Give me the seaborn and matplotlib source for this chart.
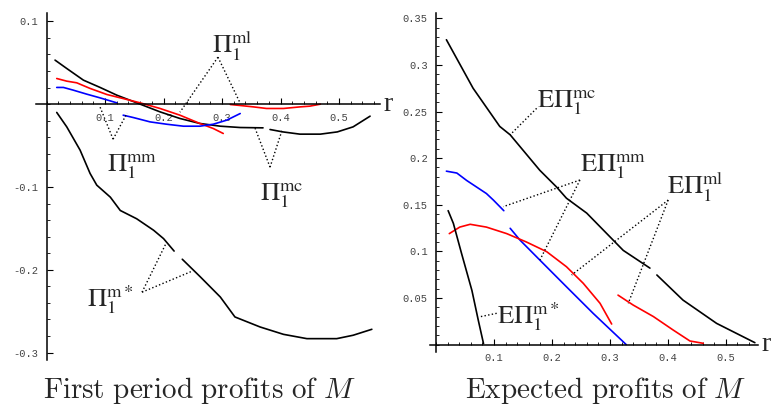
import numpy as np
import pandas as pd
import seaborn as sns
import matplotlib.pyplot as plt
from matplotlib.ticker import MultipleLocator

sns.set_style("white")
plt.rcParams['font.family'] = ['DejaVu Sans']

# ---- left panel: first period profits ----
mc1_r = [0.0145, 0.0345, 0.063, 0.0915, 0.12, 0.16, 0.194, 0.228, 0.262, 0.297, 0.331, 0.370]
mc1_v = [0.0532, 0.0431, 0.029, 0.0202, 0.0109, 0.0, -0.0093, -0.0173, -0.0233, -0.0266, -0.0282, -0.0286]
mc2_r = [0.382, 0.404, 0.433, 0.468, 0.497, 0.524, 0.553]
mc2_v = [-0.0306, -0.0335, -0.0362, -0.0362, -0.0335, -0.0274, -0.0145]

ml1_r = [0.0174, 0.0345, 0.0516, 0.0744, 0.103, 0.137, 0.160, 0.194, 0.228, 0.262, 0.285, 0.302]
ml1_v = [0.031, 0.0278, 0.0258, 0.019, 0.0117, 0.0057, 0.0016, -0.0052, -0.0133, -0.0233, -0.0294, -0.0354]
ml2_r = [0.314, 0.331, 0.354, 0.376, 0.405, 0.433, 0.450, 0.468]
ml2_v = [-0.0004, -0.0016, -0.0033, -0.0052, -0.0052, -0.0033, -0.0024, 0.0]

mm1_r = [0.0174, 0.0288, 0.0458, 0.0687, 0.0915, 0.12]
mm1_v = [0.0202, 0.0202, 0.0169, 0.0121, 0.0076, 0.0016]
mm2_r = [0.131, 0.148, 0.177, 0.205, 0.234, 0.262, 0.285, 0.308, 0.331]
mm2_v = [-0.0133, -0.0161, -0.0214, -0.0242, -0.0266, -0.0266, -0.0242, -0.0193, -0.0113]

ms1_r = [0.0174, 0.0345, 0.0573, 0.0744, 0.0858, 0.109, 0.126, 0.154, 0.183, 0.2, 0.218]
ms1_v = [-0.010, -0.0274, -0.0555, -0.0837, -0.0978, -0.1123, -0.1284, -0.1384, -0.1523, -0.1624, -0.1774]
ms2_r = [0.232, 0.263, 0.297, 0.322, 0.365, 0.405, 0.445, 0.496, 0.524, 0.556]
ms2_v = [-0.1873, -0.2087, -0.2329, -0.257, -0.2691, -0.278, -0.2832, -0.2832, -0.2791, -0.2719]

# ---- right panel: expected profits ----
emc1_r = [0.018, 0.064, 0.110, 0.128, 0.179, 0.208, 0.225, 0.260, 0.323, 0.369]
emc1_v = [0.327, 0.275, 0.234, 0.225, 0.187, 0.169, 0.157, 0.141, 0.101, 0.082]
emc2_r = [0.381, 0.426, 0.484, 0.55]
emc2_v = [0.0746, 0.0477, 0.0227, 0.002]

emm1_r = [0.018, 0.036, 0.053, 0.070, 0.087, 0.099, 0.117]
emm1_v = [0.186, 0.184, 0.176, 0.169, 0.162, 0.155, 0.1436]
emm2_r = [0.128, 0.145, 0.179, 0.225, 0.271, 0.328]
emm2_v = [0.1247, 0.112, 0.0907, 0.062, 0.0335, 0.0]

eml1_r = [0.023, 0.041, 0.059, 0.087, 0.122, 0.156, 0.191, 0.225, 0.254, 0.283, 0.303]
eml1_v = [0.119, 0.126, 0.129, 0.126, 0.119, 0.110, 0.0996, 0.0835, 0.0657, 0.0442, 0.022]
eml2_r = [0.314, 0.340, 0.375, 0.409, 0.438, 0.461]
eml2_v = [0.053, 0.0424, 0.030, 0.0156, 0.0038, 0.0013]

ems_r = [0.021, 0.030, 0.044, 0.062, 0.073, 0.082]
ems_v = [0.1436, 0.130, 0.098, 0.058, 0.026, 0.001]

left_yticks = [0.1, -0.1, -0.2, -0.3]
right_yticks = [0.05, 0.1, 0.15, 0.2, 0.25, 0.3, 0.35]
xticks = [0.1, 0.2, 0.3, 0.4, 0.5]

fig = plt.figure(figsize=(7.8, 4.13), dpi=100)
axL = fig.add_axes([0.0462, 0.1283, 0.441, 0.840])
axR = fig.add_axes([0.5515, 0.1484, 0.420, 0.8208])


def draw(ax, r, v, color):
    sns.lineplot(x=r, y=v, color=color, ax=ax, sort=False, estimator=None, lw=1.2)


for r, v, c in [(mc1_r, mc1_v, 'black'), (mc2_r, mc2_v, 'black'),
                (ml1_r, ml1_v, 'red'), (ml2_r, ml2_v, 'red'),
                (mm1_r, mm1_v, 'blue'), (mm2_r, mm2_v, 'blue'),
                (ms1_r, ms1_v, 'black'), (ms2_r, ms2_v, 'black')]:
    draw(axL, r, v, c)

for r, v, c in [(emc1_r, emc1_v, 'black'), (emc2_r, emc2_v, 'black'),
                (emm1_r, emm1_v, 'blue'), (emm2_r, emm2_v, 'blue'),
                (eml1_r, eml1_v, 'red'), (eml2_r, eml2_v, 'red'),
                (ems_r, ems_v, 'black')]:
    draw(axR, r, v, c)

axL.set_xlim(-0.018, 0.57)
axL.set_ylim(-0.309, 0.110)
axR.set_xlim(-0.01, 0.555)
axR.set_ylim(-0.0077, 0.356)

mono = dict(family='Liberation Mono', size=7.5, color='#444444')
for ax, yt, ymin in [(axL, left_yticks, 0.02), (axR, right_yticks, 0.01)]:
    for s in ['top', 'right']:
        ax.spines[s].set_visible(False)
    for s in ['left', 'bottom']:
        ax.spines[s].set_position(('data', 0))
        ax.spines[s].set_linewidth(1.1)
        ax.spines[s].set_color('black')
    ax.set_xticks(xticks)
    ax.set_xticklabels([f"{t:g}" for t in xticks], fontdict=mono)
    ax.set_yticks(yt)
    ax.set_yticklabels([f"{t:g}" for t in yt], fontdict=mono)
    ax.xaxis.set_minor_locator(MultipleLocator(0.02))
    ax.yaxis.set_minor_locator(MultipleLocator(ymin))
    ax.tick_params(which='both', bottom=True, left=True, direction='in', color='black')
    ax.tick_params(which='major', length=4, width=0.8, pad=6)
    ax.tick_params(which='minor', length=2, width=0.6)
    ax.set_xlabel('')
    ax.set_ylabel('')
    ax.text(1.01, 0, 'r', transform=ax.get_yaxis_transform(), ha='left', va='center',
            family='Liberation Serif', fontsize=20)

lab = dict(math_fontfamily='stix', fontsize=19, ha='left', va='baseline')


def note(ax, text, tx, ty, apex, ends):
    ax.text(tx, ty, text, **lab)
    for e in ends:
        ax.plot([apex[0], e[0]], [apex[1], e[1]], ls=':', color='black', lw=1.0)


note(axL, r"$\Pi_1^{\mathrm{ml}}$", 0.283, 0.0612, (0.293, 0.0568), [(0.228, -0.0097), (0.331, 0.0012)])
note(axL, r"$\Pi_1^{\mathrm{mm}}$", 0.103, -0.0818, (0.1137, -0.0423), [(0.0915, -0.0036), (0.1376, -0.0109)])
note(axL, r"$\Pi_1^{\mathrm{mc}}$", 0.365, -0.1168, (0.382, -0.0761), [(0.3564, -0.029), (0.4026, -0.0314)])
note(axL, r"$\Pi_1^{\mathrm{m}*}$", 0.0687, -0.2449, (0.1632, -0.2271), [(0.2043, -0.168), (0.2487, -0.2017)])

note(axR, r"$\mathrm{E}\Pi_1^{\mathrm{mc}}$", 0.1736, 0.2545, (0.1736, 0.2534), [(0.1276, 0.2248)])
note(axR, r"$\mathrm{E}\Pi_1^{\mathrm{mm}}$", 0.2483, 0.1854, (0.2483, 0.1765), [(0.116, 0.1479), (0.1793, 0.0907)])
note(axR, r"$\mathrm{E}\Pi_1^{\mathrm{ml}}$", 0.3978, 0.1604, (0.4005, 0.155), [(0.234, 0.0746), (0.3316, 0.0442)])
note(axR, r"$\mathrm{E}\Pi_1^{\mathrm{m}*}$", 0.1047, 0.0227, (0.1047, 0.0335), [(0.0759, 0.0298)])

cap = dict(math_fontfamily='cm', fontsize=21, ha='center', va='center')
fig.text(199 / 780, 1 - 390 / 413, r"$\mathrm{First\ period\ profits\ of}\ M$", **cap)
fig.text(606 / 780, 1 - 390 / 413, r"$\mathrm{Expected\ profits\ of}\ M$", **cap)

fig.savefig('out.png', dpi=100)
